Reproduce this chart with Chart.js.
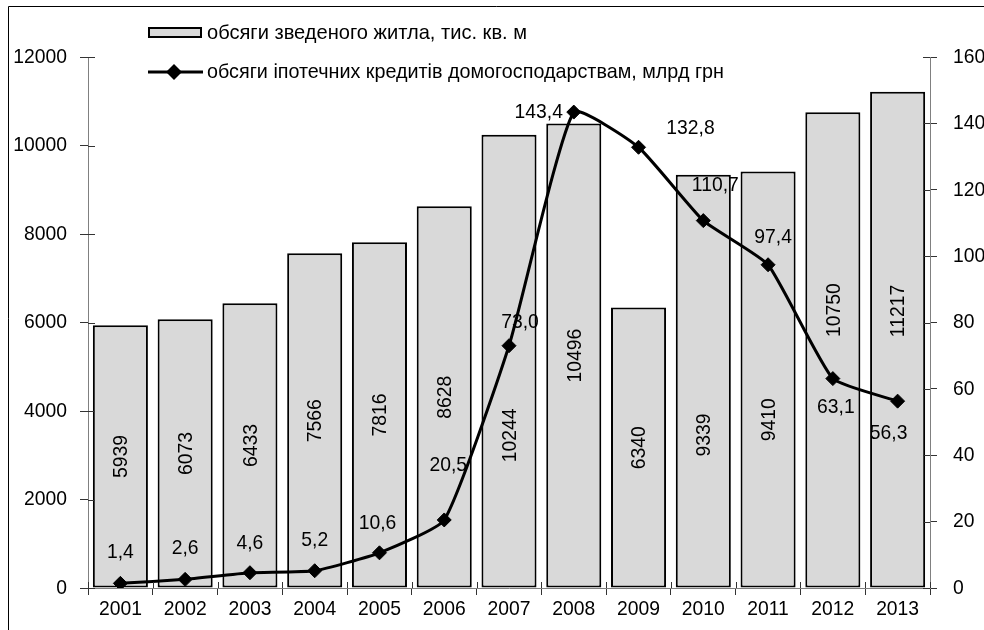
<!DOCTYPE html>
<html lang="uk">
<head>
<meta charset="utf-8">
<title>Житло та іпотека</title>
<script src="https://cdn.jsdelivr.net/npm/chart.js@4/dist/chart.umd.min.js"></script>
<style>
  html, body { margin: 0; padding: 0; background: #fff; }
  #wrap { width: 984px; height: 630px; position: relative; }
</style>
</head>
<body>
<div id="wrap"><canvas id="chart"></canvas></div>
<script>
  "use strict";
  // data
  const years = ["2001", "2002", "2003", "2004", "2005", "2006", "2007",
                 "2008", "2009", "2010", "2011", "2012", "2013"];
  const housing = [5939, 6073, 6433, 7566, 7816, 8628, 10244, 10496, 6340, 9339, 9410, 10750, 11217];
  const mortgage = [1.4, 2.6, 4.6, 5.2, 10.6, 20.5, 73.0, 143.4, 132.8, 110.7, 97.4, 63.1, 56.3];
  const housingName = "обсяги зведеного житла, тис. кв. м";
  const mortgageName = "обсяги іпотечних кредитів домогосподарствам, млрд грн";
  const leftAxis = { min: 0, max: 12000, step: 2000 };
  const rightAxis = { min: 0, max: 160, step: 20 };

  // label placement (rotated bar labels: centre in left-axis units; line labels: px offsets)
  const barLabelAt = [2970, 3040, 3220, 3780, 3910, 4310, 3450, 5250, 3170, 3460, 3800, 6280, 6260];
  const lineLabelOff = [[0, -31], [0, -31], [0, -30], [0, -31], [-2, -30], [4, -55], [11, -24],
                        [-35, 0], [52, -19], [12, -35], [5, -28], [3, 29], [-9, 32]];

  const FONT = "'Liberation Sans', Arial, sans-serif";
  const SQUEEZE = 0.92; // the original face is a bit narrower than Arial
  const fmt = (v) => v.toFixed(1).replace(".", ",");

  // text helper: narrow-looking text anchored at (x, y)
  function say(c, txt, x, y, align = "center", sx = SQUEEZE) {
    c.save();
    c.translate(x, y);
    c.scale(sx, 1);
    c.textAlign = align;
    c.fillText(txt, 0, 0);
    c.restore();
  }

  const framePlugin = {
    id: "frame",
    beforeDraw(chart) {
      const c = chart.ctx;
      c.save();
      c.fillStyle = "#fff";
      c.fillRect(0, 0, chart.width, chart.height);
      c.strokeStyle = "#000";
      c.lineWidth = 1;
      c.beginPath();
      c.moveTo(8.5, chart.height);
      c.lineTo(8.5, 6.5);
      c.lineTo(chart.width, 6.5);
      c.stroke();
      c.restore();
    },
  };

  // inner halves of the tick marks (so they cross the axes) + tick labels
  const axisDecor = {
    id: "axisDecor",
    afterDraw(chart) {
      const c = chart.ctx, a = chart.chartArea;
      const { x, y, y1 } = chart.scales;
      c.save();
      c.strokeStyle = "#333";
      c.lineWidth = 1;
      c.beginPath();
      const n = years.length, w = (a.right - a.left) / n;
      for (let i = 0; i <= n; i++) {
        const px = Math.round(a.left + i * w) + 0.5;
        c.moveTo(px, a.bottom - 6); c.lineTo(px, a.bottom);
      }
      y.ticks.forEach((t) => {
        const py = Math.round(y.getPixelForValue(t.value)) + 0.5;
        c.moveTo(a.left, py); c.lineTo(a.left + 7, py);
      });
      y1.ticks.forEach((t) => {
        const py = Math.round(y1.getPixelForValue(t.value)) + 0.5;
        c.moveTo(a.right - 7, py); c.lineTo(a.right, py);
      });
      c.stroke();

      c.fillStyle = "#000";
      c.font = "21px " + FONT;
      c.textBaseline = "middle";
      years.forEach((yr, i) => say(c, yr, x.getPixelForValue(i), a.bottom + 21));
      y.ticks.forEach((t) => say(c, String(t.value), a.left - 21, y.getPixelForValue(t.value), "right"));
      y1.ticks.forEach((t) => say(c, String(t.value), a.right + 23, y1.getPixelForValue(t.value), "left"));
      c.restore();
    },
  };

  const valueLabels = {
    id: "valueLabels",
    afterDatasetsDraw(chart) {
      const c = chart.ctx;
      const { x, y, y1 } = chart.scales;
      c.save();
      c.fillStyle = "#000";
      c.font = "21px " + FONT;
      c.textBaseline = "middle";
      housing.forEach((v, i) => {
        c.save();
        c.translate(x.getPixelForValue(i), y.getPixelForValue(barLabelAt[i]));
        c.rotate(-Math.PI / 2);
        say(c, String(v), 0, 1);
        c.restore();
      });
      mortgage.forEach((v, i) => {
        const [dx, dy] = lineLabelOff[i];
        say(c, fmt(v), x.getPixelForValue(i) + dx, y1.getPixelForValue(v) + dy);
      });
      c.restore();
    },
  };

  const legendPlugin = {
    id: "sideLegend",
    afterDraw(chart) {
      const c = chart.ctx;
      c.save();
      // bar swatch
      c.fillStyle = "#d9d9d9";
      c.strokeStyle = "#000";
      c.lineWidth = 2;
      c.fillRect(149, 28, 52, 9);
      c.strokeRect(149, 28, 52, 9);
      // line swatch
      c.lineWidth = 3;
      c.beginPath();
      c.moveTo(148, 72); c.lineTo(203, 72);
      c.stroke();
      c.fillStyle = "#000";
      c.beginPath();
      c.moveTo(174, 64); c.lineTo(182, 72); c.lineTo(174, 80); c.lineTo(166, 72);
      c.closePath();
      c.fill();
      c.font = "21px " + FONT;
      c.textBaseline = "middle";
      const fit = (txt, wTarget) => Math.min(1, wTarget / c.measureText(txt).width);
      say(c, housingName, 207, 33, "left", fit(housingName, 320));
      say(c, mortgageName, 207, 72, "left", fit(mortgageName, 517));
      c.restore();
    },
  };

  new Chart(document.getElementById("chart"), {
    type: "bar",
    data: {
      labels: years,
      datasets: [
        { type: "line", label: mortgageName, data: mortgage, yAxisID: "y1", order: 0,
          borderColor: "#000", borderWidth: 3, tension: 0.15,
          pointStyle: "rectRot", pointRadius: 7, pointBackgroundColor: "#000",
          pointBorderColor: "#000", pointBorderWidth: 1 },
        { type: "bar", label: housingName, data: housing, yAxisID: "y", order: 1,
          backgroundColor: "#d9d9d9", borderColor: "#000", borderWidth: 2,
          borderSkipped: false, barPercentage: 0.85, categoryPercentage: 1 },
      ],
    },
    options: {
      responsive: true, maintainAspectRatio: false, animation: false,
      layout: { padding: { top: 57, left: 0, right: 0, bottom: 0 } },
      plugins: { legend: { display: false }, tooltip: { enabled: false } },
      scales: {
        x: {
          grid: { offset: true, drawOnChartArea: false, tickLength: 7, color: "#333" },
          border: { color: "#808080" },
          ticks: { display: false },
          afterFit: (s) => { s.height = 42; },
        },
        y: {
          position: "left", min: leftAxis.min, max: leftAxis.max,
          grid: { drawOnChartArea: false, tickLength: 8, color: "#333" },
          border: { color: "#808080" },
          ticks: { display: false, stepSize: leftAxis.step },
          afterFit: (s) => { s.width = 88; },
        },
        y1: {
          position: "right", min: rightAxis.min, max: rightAxis.max,
          grid: { drawOnChartArea: false, tickLength: 7, color: "#333" },
          border: { color: "#808080" },
          ticks: { display: false, stepSize: rightAxis.step },
          afterFit: (s) => { s.width = 54; },
        },
      },
    },
    plugins: [framePlugin, axisDecor, valueLabels, legendPlugin],
  });
</script>
</body>
</html>
